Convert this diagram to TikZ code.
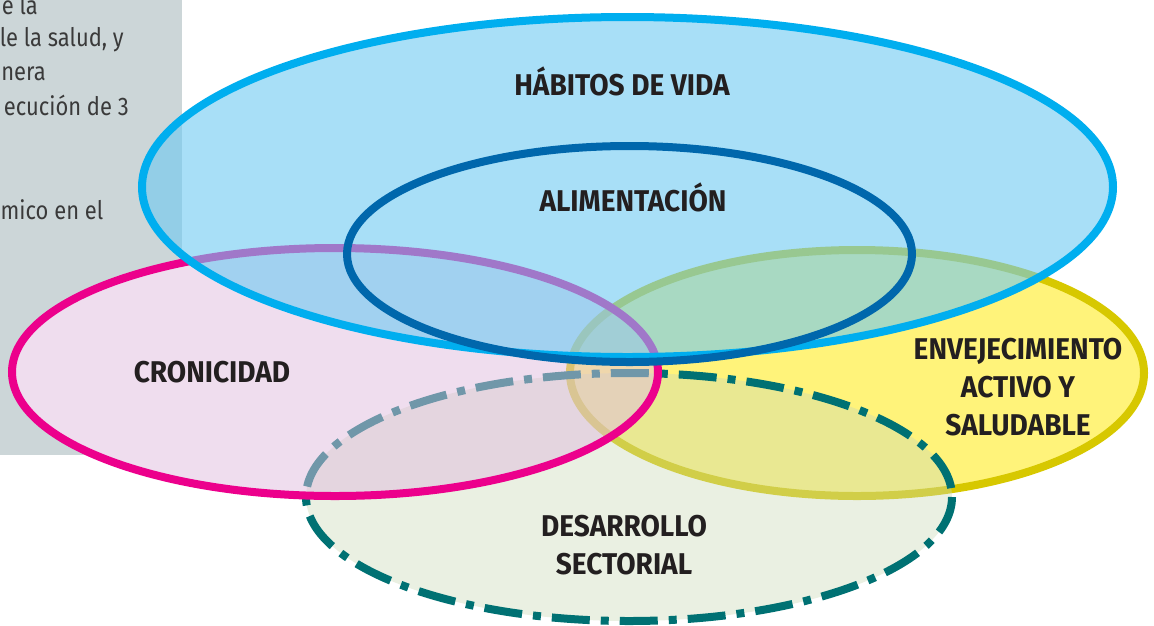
\documentclass[tikz,border=0pt]{standalone}
\usepackage{fontspec}
\setmainfont{Fira Sans}
\newfontfamily\labelfont{Fira Sans}[FakeStretch=0.935]
\newfontfamily\panelfont{Fira Sans}[FakeStretch=0.86]
\definecolor{panelgray}{HTML}{CCD6D8}
\definecolor{paneltext}{HTML}{3A3A3A}
\definecolor{cyanstroke}{HTML}{00AEEF}
\definecolor{cyanfill}{HTML}{6EC9F2}
\definecolor{navystroke}{HTML}{0067AC}
\definecolor{pinkstroke}{HTML}{EC008C}
\definecolor{pinkfill}{HTML}{E1BDDF}
\definecolor{yellowstroke}{HTML}{D7C800}
\definecolor{yellowfill}{HTML}{FFF37A}
\definecolor{tealstroke}{HTML}{007173}
\definecolor{greenfill}{HTML}{CAD9B6}
\definecolor{labeltext}{HTML}{231F20}
\tikzset{
  ring/.style={line width=8pt},
  lbl/.style={font=\labelfont\bfseries\fontsize{30}{38}\selectfont, text=labeltext, align=center, inner sep=0pt},
  ptxt/.style={font=\panelfont\fontsize{25.5}{30}\selectfont, text=paneltext, anchor=base east, inner sep=0pt}
}
\begin{document}
\begin{tikzpicture}[x=1pt,y=-1pt]
\useasboundingbox (0,0) rectangle (1154,625);
% side panel
\fill[panelgray] (0,0) rectangle (182,455);
\node[ptxt] (p1) at (38,14) {e la};
\node[ptxt] (p2) at (124,46) {le la salud, y};
\node[ptxt] (p3) at (46,80) {nera};
\node[ptxt] (p4) at (129,115) {ecución de 3};
\node[ptxt, anchor=base west] (p5) at (0.5,219) {mico en el};
% white underlay so the pink set hides the panel
\fill[white] (335,372) ellipse [x radius=323, y radius=124];
% ellipses
\draw[ring, draw=yellowstroke, fill=yellowfill] (857,373) ellipse [x radius=287, y radius=123];
\draw[ring, draw=tealstroke, fill=greenfill, fill opacity=0.4, dash pattern=on 38pt off 11pt on 8pt off 11pt] (629,497) ellipse [x radius=323, y radius=124];
\draw[ring, draw=pinkstroke, fill=pinkfill, fill opacity=0.5] (335,372) ellipse [x radius=323, y radius=124];
\draw[ring, draw=cyanstroke, fill=cyanfill, fill opacity=0.6] (627.5,187) ellipse [x radius=485.5, y radius=170];
\draw[ring, draw=navystroke] (629.5,254) ellipse [x radius=282.5, y radius=108];
% labels
\node[lbl] (habitos) at (622,81) {HÁBITOS DE VIDA};
\node[lbl] (alim) at (633,197) {ALIMENTACIÓN};
\node[lbl] (cron) at (212,372) {CRONICIDAD};
\node[lbl] (envej) at (1018,387) {ENVEJECIMIENTO\\ACTIVO Y\\SALUDABLE};
\node[lbl] (desarr) at (624,545) {DESARROLLO\\SECTORIAL};
\end{tikzpicture}
\end{document}
